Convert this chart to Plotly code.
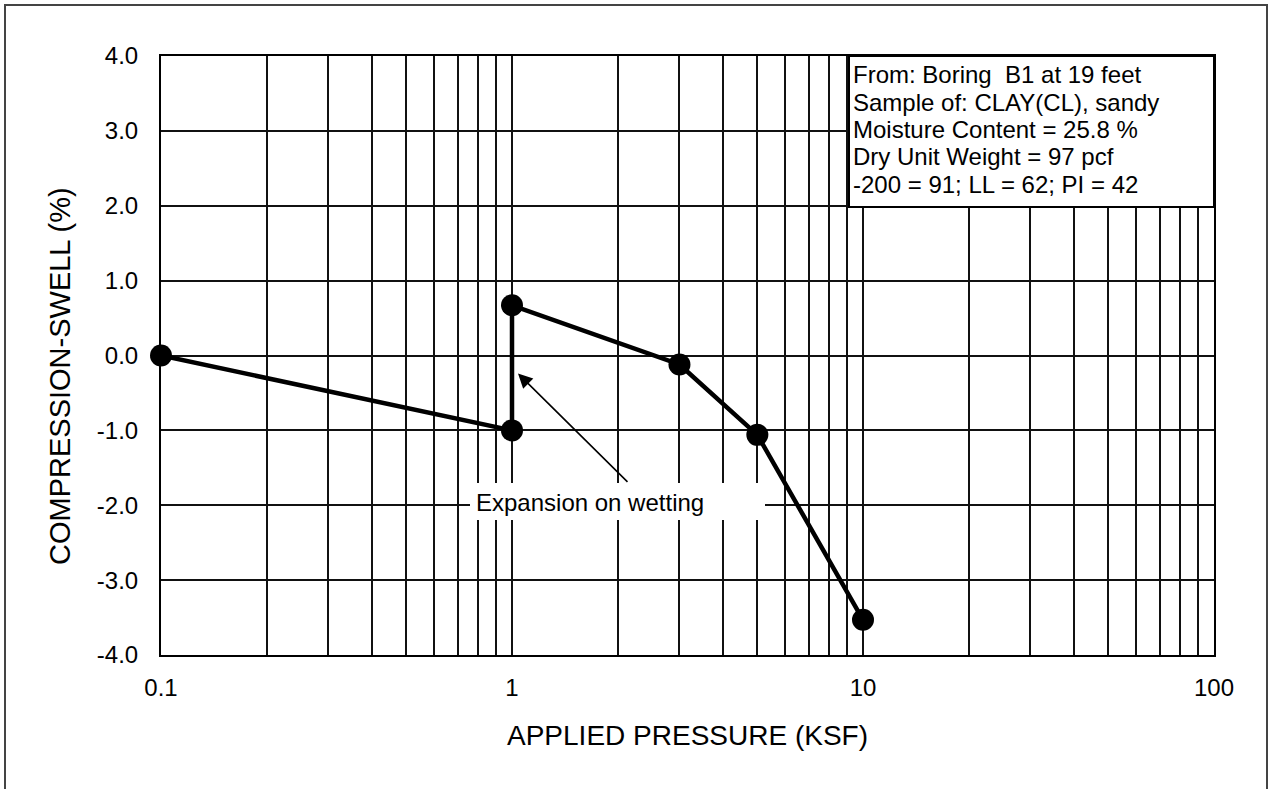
import plotly.graph_objects as go

# Data
pressure_ksf = [0.1, 1.0, 1.0, 3.0, 5.0, 10.0]
compression_swell = [0.0, -1.0, 0.67, -0.12, -1.06, -3.53]

x_major_ticks = [0.1, 1, 10, 100]
x_major_labels = ["0.1", "1", "10", "100"]
x_minor_ticks = [m * d for d in (0.1, 1, 10) for m in range(2, 10)]
y_ticks = [-4, -3, -2, -1, 0, 1, 2, 3, 4]
y_labels = ["-4.0", "-3.0", "-2.0", "-1.0", "0.0", "1.0", "2.0", "3.0", "4.0"]

info_lines = [
    "From: Boring  B1 at 19 feet",
    "Sample of: CLAY(CL), sandy",
    "Moisture Content = 25.8 %",
    "Dry Unit Weight = 97 pcf",
    "-200 = 91; LL = 62; PI = 42",
]
note_text = "Expansion on wetting"
x_title = "APPLIED PRESSURE (KSF)"
y_title = "COMPRESSION-SWELL (%)"

FONT = "Liberation Sans, Arial, sans-serif"
W, H = 1270, 789
L, R, T, B = 161, 56, 56, 134
PW, PH = W - L - R, H - T - B


def px(xp):
    return (xp - L) / PW


def py(yp):
    return (H - B - yp) / PH


fig = go.Figure()
fig.add_trace(go.Scatter(
    x=pressure_ksf, y=compression_swell, mode="lines+markers",
    line=dict(color="black", width=4.5),
    marker=dict(color="black", size=22),
    showlegend=False, cliponaxis=False,
))

grid_col = "#111111"
fig.update_xaxes(
    type="log", range=[-1, 2],
    tickvals=x_major_ticks, ticktext=x_major_labels,
    showgrid=True, gridcolor=grid_col, gridwidth=2,
    minor=dict(tickvals=x_minor_ticks, showgrid=True, gridcolor=grid_col, gridwidth=2, ticks=""),
    showline=True, linecolor="black", linewidth=2, mirror=True,
    ticks="", ticklabelstandoff=10,
    tickfont=dict(family=FONT, size=24, color="black"),
    zeroline=False,
)
fig.update_yaxes(
    range=[-4, 4], tickvals=y_ticks, ticktext=y_labels,
    showgrid=True, gridcolor=grid_col, gridwidth=2,
    showline=True, linecolor="black", linewidth=2, mirror=True,
    ticks="", ticklabelstandoff=16,
    tickfont=dict(family=FONT, size=24, color="black"),
    zeroline=False,
)

shapes = [
    # outer frame
    dict(type="rect", xref="paper", yref="paper",
         x0=px(5), x1=px(1267), y0=py(805), y1=py(5),
         line=dict(color="#444444", width=2), fillcolor="rgba(0,0,0,0)", layer="below"),
    # info box
    dict(type="rect", xref="paper", yref="paper",
         x0=px(849), x1=1.0, y0=py(207), y1=1.0,
         line=dict(color="black", width=2), fillcolor="white", layer="above"),
    # white label background
    dict(type="rect", xref="paper", yref="paper",
         x0=px(470), x1=px(765), y0=py(520), y1=py(483),
         line=dict(width=0), fillcolor="white", layer="above"),
]

annotations = []
for i, line in enumerate(info_lines):
    annotations.append(dict(
        xref="paper", yref="paper", x=px(851), y=py(75 + i * 27.3),
        xanchor="left", yanchor="middle", showarrow=False, text=line,
        font=dict(family=FONT, size=24, color="black"),
    ))

# arrow
annotations.append(dict(
    xref="x", yref="y", x=0.0171, y=-0.24,
    axref="x", ayref="y", ax=0.3333, ay=-1.707,
    text="", showarrow=True, arrowhead=2, arrowsize=1.8, arrowwidth=1.6,
    arrowcolor="black",
))
annotations.append(dict(
    xref="paper", yref="paper", x=px(590), y=py(502),
    xanchor="center", yanchor="middle", showarrow=False, text=note_text,
    font=dict(family=FONT, size=24, color="black"),
))
annotations.append(dict(
    xref="paper", yref="paper", x=px(687), y=py(735),
    xanchor="center", yanchor="middle", showarrow=False, text=x_title,
    font=dict(family=FONT, size=28, color="black"),
))
annotations.append(dict(
    xref="paper", yref="paper", x=px(60), y=py(376),
    xanchor="center", yanchor="middle", showarrow=False, text=y_title,
    textangle=-90, font=dict(family=FONT, size=29, color="black"),
))

fig.update_layout(
    width=W, height=H,
    margin=dict(l=L, r=R, t=T, b=B),
    paper_bgcolor="white", plot_bgcolor="white",
    shapes=shapes, annotations=annotations,
    font=dict(family=FONT, color="black"),
)

fig.write_html(
    "out.html",
    config={"displayModeBar": False},
    post_script="document.body.style.margin='0';document.body.style.overflow='hidden';",
)
